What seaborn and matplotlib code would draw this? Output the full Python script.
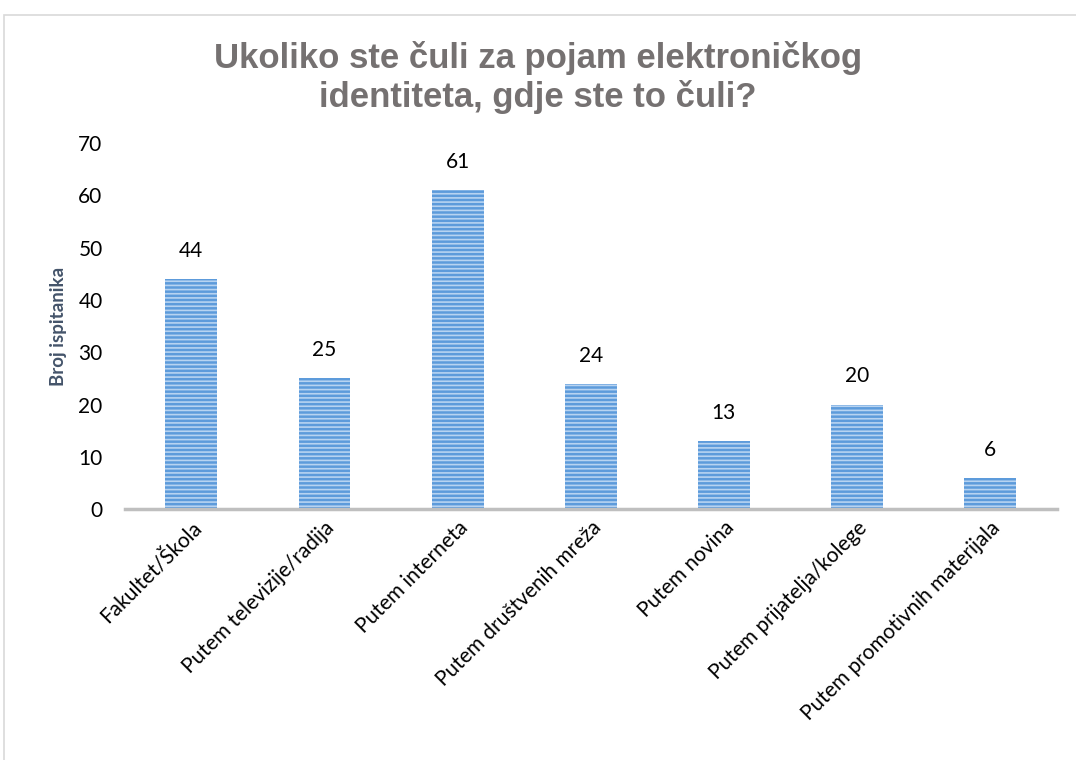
import matplotlib
matplotlib.use("Agg")
import matplotlib.pyplot as plt
import seaborn as sns
import pandas as pd

categories = [
    "Fakultet/Škola",
    "Putem televizije/radija",
    "Putem interneta",
    "Putem društvenih mreža",
    "Putem novina",
    "Putem prijatelja/kolege",
    "Putem promotivnih materijala",
]
counts = [44, 25, 61, 24, 13, 20, 6]

title = "Ukoliko ste čuli za pojam elektroničkog\nidentiteta, gdje ste to čuli?"
y_label = "Broj ispitanika"

df = pd.DataFrame({"kategorija": categories, "broj": counts})

sns.set_theme(style="white")
plt.rcParams["font.family"] = ["Lato", "DejaVu Sans"]
plt.rcParams["hatch.linewidth"] = 1.2
plt.rcParams["hatch.color"] = "#b7d3f1"

fig = plt.figure(figsize=(10.76, 7.6), dpi=100)
ax = fig.add_axes([0.116, 0.33, 0.866, 0.482])

sns.barplot(data=df, x="kategorija", y="broj", color="#5d9bdb",
            width=0.39, saturation=1, ax=ax)
for bar in ax.patches:
    bar.set_hatch("----")
    bar.set_edgecolor("#b7d3f1")
    bar.set_linewidth(0)

for bar, v in zip(ax.patches, counts):
    ax.annotate(str(v), (bar.get_x() + bar.get_width() / 2, v),
                textcoords="offset points", xytext=(0, 13),
                ha="center", va="bottom", fontsize=15, color="#000000")

ax.set_ylim(0, 70)
ax.set_xlim(-0.5, 6.5)
ax.set_yticks(range(0, 71, 10))
ax.tick_params(axis="y", labelsize=15, colors="#000000", length=0, pad=16)
ax.tick_params(axis="x", labelsize=15, colors="#000000", length=0, pad=6)
ax.set_xticks(range(len(categories)))
ax.set_xticklabels(categories, rotation=45, ha="right", rotation_mode="anchor")
ax.set_xlabel("")
ax.set_ylabel(y_label, fontsize=13.5, fontweight="bold", color="#44546a", labelpad=8)

for side in ["top", "right", "left"]:
    ax.spines[side].set_visible(False)
ax.spines["bottom"].set_color("#bfbfbf")
ax.spines["bottom"].set_linewidth(2.5)

fig.text(0.5, 0.898, title, ha="center", va="center", fontsize=25,
         fontweight="bold", color="#757171", linespacing=1.15,
         family=["Liberation Sans", "DejaVu Sans"])

frame = plt.Rectangle((0.004, -0.01), 1.2, 0.99, transform=fig.transFigure,
                      fill=False, edgecolor="#d9d9d9", linewidth=1.2)
fig.patches.append(frame)

fig.savefig("out.png", dpi=100)
